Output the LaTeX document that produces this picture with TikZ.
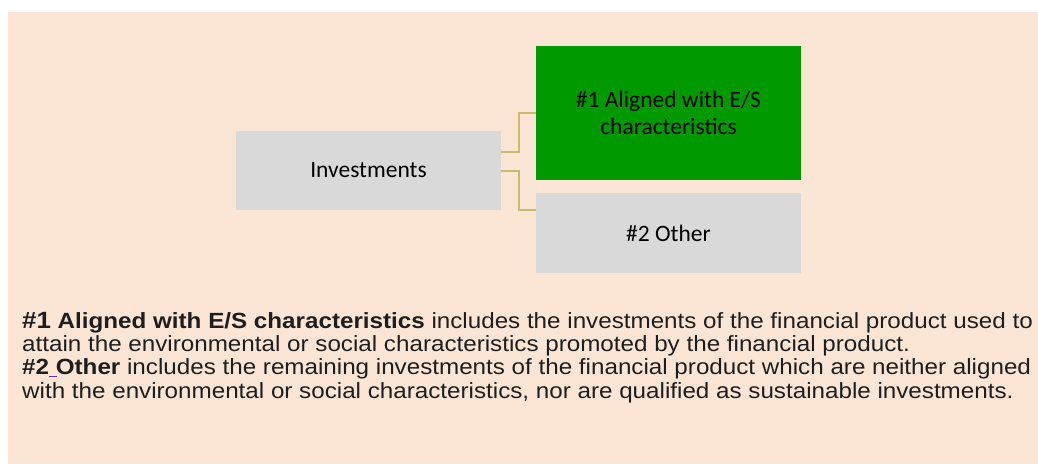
\documentclass[tikz,border=0pt]{standalone}
\usepackage{fontspec}
\setmainfont{Liberation Sans}
\newfontfamily\boxfont{Carlito}
\newfontfamily\notefont[FakeStretch=1.1]{Liberation Sans}
\definecolor{bgpeach}{HTML}{FBE6D6}
\definecolor{boxgray}{HTML}{D9D9D9}
\definecolor{boxgreen}{HTML}{009A00}
\definecolor{connol}{HTML}{CBBB6E}
\definecolor{txtdark}{HTML}{1E1E1E}
\definecolor{purpmark}{HTML}{7030A0}
\tikzset{
  chartbox/.style={inner sep=0pt, draw=none, minimum width=265pt, align=center,
    font=\boxfont\fontsize{23.5}{27}\selectfont, text=black},
  conn/.style={draw=connol, line width=2pt},
  noteline/.style={anchor=base west, inner sep=0pt, text=txtdark,
    font=\notefont\fontsize{22}{23}\selectfont}
}
\begin{document}
\begin{tikzpicture}[x=1pt,y=-1pt]
\useasboundingbox (0,0) rectangle (1038,464);
\fill[bgpeach] (8,12) rectangle (1038,464);
\node[chartbox, fill=boxgray, minimum height=79pt] (inv) at (368.5,170.5) {Investments};
\node[chartbox, fill=boxgreen, minimum height=134pt] (al) at (668.5,113) {\#1 Aligned with E/S\\characteristics};
\node[chartbox, fill=boxgray, minimum height=80pt] (oth) at (668.5,233) {\#2 Other};
\draw[conn] ([yshift=18.5pt]inv.east) -- ++(18,0) |- (al.west);
\draw[conn] ([yshift=-0.5pt]inv.east) -- ++(18,0) |- ([yshift=23pt]oth.west);
\node[noteline] (n1) at (22,328) {{\fontsize{23.5}{23}\selectfont\bfseries\#1} \textbf{Aligned with E/S characteristics} includes the investments of the financial product used to};
\node[noteline] (n2) at (22,351) {attain the environmental or social characteristics promoted by the financial product.};
\node[noteline] (n3) at (22,374) {\textbf{\#2}\makebox[0pt][l]{\color{purpmark}\rule[-3pt]{8pt}{1.2pt}}\ \textbf{Other} includes the remaining investments of the financial product which are neither aligned};
\node[noteline] (n4) at (22,398) {with the environmental or social characteristics, nor are qualified as sustainable investments.};
\end{tikzpicture}
\end{document}
